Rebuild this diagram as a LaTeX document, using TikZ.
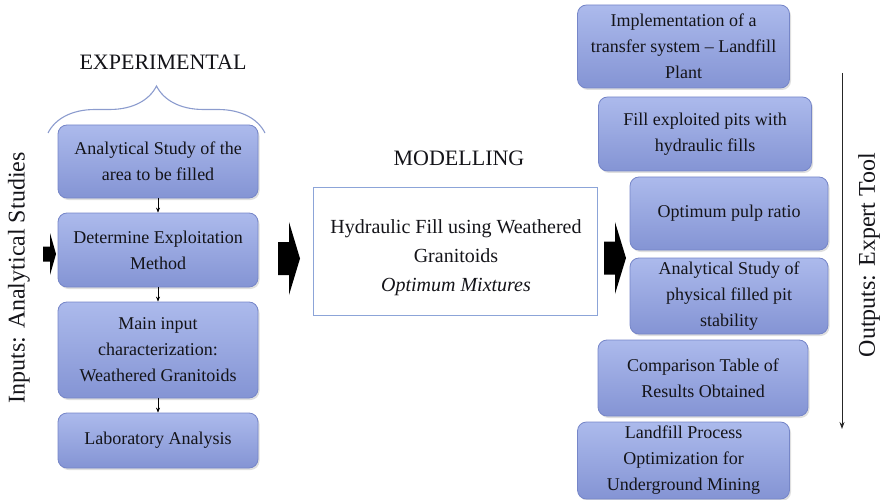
\documentclass[tikz,border=0pt]{standalone}
\usepackage{fontspec}
\setmainfont{Liberation Serif}
\usetikzlibrary{decorations.pathreplacing,arrows.meta,shadows}
\definecolor{boxtop}{RGB}{172,186,236}
\definecolor{boxbot}{RGB}{132,148,212}
\definecolor{boxline}{RGB}{118,134,200}
\definecolor{modline}{RGB}{140,164,216}
\definecolor{bracecol}{RGB}{140,156,206}
\definecolor{txt}{RGB}{20,20,25}
\begin{document}
\begin{tikzpicture}[x=1pt,y=-1pt,
  box/.style={draw=boxline, line width=0.8pt, rounded corners=9pt,
    top color=boxtop, bottom color=boxbot, align=center, inner sep=2pt,
    font=\fontsize{18}{26}\selectfont, text=txt,
    drop shadow={opacity=0.25, shadow xshift=1.5pt, shadow yshift=-2pt}},
  modbox/.style={draw=modline, line width=1.3pt, fill=white},
  modtext/.style={align=center, font=\fontsize{20}{29}\selectfont, text=txt},
  heading/.style={font=\fontsize{22}{26}\selectfont, text=txt},
  sidelabel/.style={font=\fontsize{24}{28}\selectfont, text=txt, rotate=90},
  smallarrow/.style={-{Stealth[length=5pt,width=4pt]}, line width=0.6pt, black},
  outarrow/.style={-{Stealth[length=7pt,width=5pt]}, line width=1pt, black!85},
  pics/blockarrow/.style args={#1/#2/#3/#4}{code={
    \fill[black] (0,-#2) -- (#1,-#2) -- (#1,-#3) -- (#1+#4,0) -- (#1,#3)
      -- (#1,#2) -- (0,#2) -- cycle;}},
]
\useasboundingbox (0,0) rectangle (881,500);

% Left column
\pic (la) at (43,254) {blockarrow={7/7.5/21/6}};
\node[box, minimum width=200pt, minimum height=73pt] (b1) at (158,161.5)
  {Analytical Study of the\\area to be filled};
\node[box, minimum width=200pt, minimum height=74pt] (b2) at (158,250)
  {Determine Exploitation\\Method};
\node[box, minimum width=200pt, minimum height=96pt] (b3) at (158,350)
  {Main input\\characterization:\\Weathered Granitoids};
\node[box, minimum width=200pt, minimum height=55pt] (b4) at (158,440.5)
  {Laboratory Analysis};

\draw[smallarrow] (b1) -- (b2);
\draw[smallarrow] (b2) -- (b3);
\draw[smallarrow] (b3) -- (b4);

% Brace and heading
\coordinate (bl) at (48,133);
\coordinate (br) at (265,133);
\draw[bracecol, line width=1.1pt, decorate, decoration={brace, amplitude=47pt}] (bl) -- (br);
\node[heading] (exp) at (163,62) {EXPERIMENTAL};

\node[sidelabel] (inp) at (19,278) {Inputs: Analytical Studies};

% Middle
\node[heading] (mod) at (459,158) {MODELLING};
\node[modbox, minimum width=284pt, minimum height=128pt] (m) at (455.5,251.5) {};
\node[modtext] (mt) at (456,258) {Hydraulic Fill using Weathered\\Granitoids\\\textit{Optimum Mixtures}};
\pic (a1) at (278,258.5) {blockarrow={11/16.5/36.5/11}};
\pic (a2) at (604,258) {blockarrow={11/16.5/36/11}};

% Right column
\node[box, minimum width=212pt, minimum height=83pt] (r1) at (683.5,46.5)
  {Implementation of a\\transfer system -- Landfill\\Plant};
\node[box, minimum width=213pt, minimum height=74pt] (r2) at (705,134)
  {Fill exploited pits with\\hydraulic fills};
\node[box, minimum width=198pt, minimum height=73pt] (r3) at (729,213.5)
  {Optimum pulp ratio};
\node[box, minimum width=198pt, minimum height=76pt] (r4) at (729,296)
  {Analytical Study of\\physical filled pit\\stability};
\node[box, minimum width=210pt, minimum height=76pt] (r5) at (703,378)
  {Comparison Table of\\Results Obtained};
\node[box, minimum width=212pt, minimum height=77pt] (r6) at (683.5,460.5)
  {Landfill Process\\Optimization for\\Underground Mining};

\coordinate (os) at (842,73);
\coordinate (oe) at (842,429);
\draw[outarrow] (os) -- (oe);
\node[sidelabel] (out) at (869,255) {Outputs: Expert Tool};
\end{tikzpicture}
\end{document}
